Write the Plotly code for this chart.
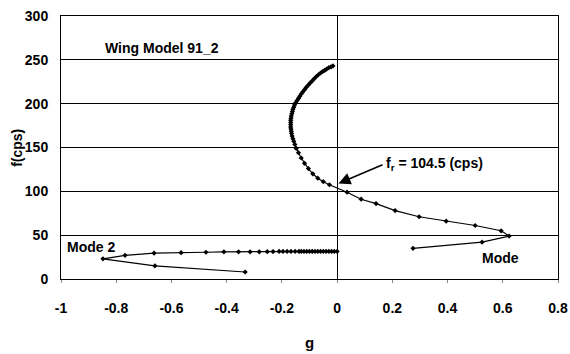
import plotly.graph_objects as go

# Mode 1 (upper branch, drawn in order of increasing velocity)
mode1_g = [-0.015, -0.022, -0.03, -0.038, -0.045, -0.053, -0.06, -0.068, -0.075, -0.083,
           -0.09, -0.098, -0.105, -0.112, -0.118, -0.124, -0.13, -0.135, -0.14, -0.145,
           -0.15, -0.154, -0.157, -0.160, -0.162, -0.164, -0.166, -0.167, -0.168, -0.168,
           -0.168, -0.168, -0.167, -0.166, -0.165, -0.163, -0.160, -0.157, -0.153, -0.148,
           -0.140, -0.130, -0.118, -0.104, -0.088, -0.070, -0.050, -0.028, 0.036, 0.087,
           0.141, 0.21, 0.297, 0.395, 0.50, 0.594, 0.623, 0.525, 0.275]
mode1_f = [243, 242, 241, 239.5, 238, 236.5, 235, 233, 231, 228.5,
           226, 223.5, 221, 218.5, 216, 213.5, 211, 208.5, 206, 203.5,
           201, 198.5, 196, 193.5, 191, 188.5, 186, 183.5, 181, 178.5,
           176, 173.5, 171, 168.5, 166, 163, 160, 157, 153.5, 149,
           144, 138, 132, 126, 120, 115, 111, 107.5, 99, 91,
           86, 78, 71, 66, 61, 55, 49, 42, 35]

# Mode 2 (lower branch)
mode2_g = [0.0, -0.01, -0.02, -0.03, -0.04, -0.05, -0.06, -0.07, -0.08, -0.09,
           -0.10, -0.11, -0.12, -0.13, -0.138, -0.152, -0.167,
           -0.181, -0.196, -0.21, -0.232, -0.253, -0.282, -0.315, -0.357, -0.41, -0.475,
           -0.565, -0.663, -0.768, -0.848, -0.66, -0.333]
mode2_f = [31.5, 31.5, 31.5, 31.5, 31.5, 31.5, 31.5, 31.5, 31.5, 31.5,
           31.5, 31.5, 31.5, 31.5, 31.5, 31.5, 31.5,
           31.5, 31.5, 31.5, 31.3, 31.2, 31, 31, 31, 31, 30.5,
           30, 29.5, 27, 23, 15, 8]

y_ticks = [0, 50, 100, 150, 200, 250, 300]
x_ticks = [-1, -0.8, -0.6, -0.4, -0.2, 0, 0.2, 0.4, 0.6, 0.8]
x_tick_text = ["-1", "-0.8", "-0.6", "-0.4", "-0.2", "0", "0.2", "0.4", "0.6", "0.8"]

FONT = "Liberation Sans Narrow, Arial Narrow, Liberation Sans, Arial"

fig = go.Figure()
for gx, fy in [(mode1_g, mode1_f), (mode2_g, mode2_f)]:
    fig.add_trace(go.Scatter(
        x=gx, y=fy, mode="lines+markers",
        line=dict(color="black", width=1.2),
        marker=dict(color="black", size=4, symbol="diamond"),
        showlegend=False, hoverinfo="skip"))

fig.update_layout(
    width=570, height=354,
    margin=dict(l=61, r=12, t=16, b=75),
    paper_bgcolor="white", plot_bgcolor="white",
    font=dict(family=FONT, size=14, color="black"),
    xaxis=dict(range=[-1, 0.8], tickvals=x_ticks, ticktext=x_tick_text,
               automargin=False,
               showgrid=False, zeroline=True, zerolinecolor="black", zerolinewidth=1,
               showline=True, linecolor="black", linewidth=1, mirror=True,
               ticks="outside", ticklen=3, tickcolor="#888",
               ticklabelstandoff=13,
               tickfont=dict(family=FONT, size=14, color="black", weight="bold")),
    yaxis=dict(range=[0, 300], tickvals=y_ticks,
               automargin=False,
               showgrid=True, gridcolor="black", gridwidth=1,
               zeroline=False,
               showline=True, linecolor="black", linewidth=1, mirror=True,
               ticks="", ticklabelstandoff=9,
               tickfont=dict(family=FONT, size=14, color="black", weight="bold")),
)

fig.add_annotation(text="f(cps)", xref="paper", yref="paper", x=-0.11, y=0.5,
                   textangle=-90, showarrow=False,
                   font=dict(family=FONT, size=14, color="black", weight="bold"))
fig.add_annotation(text="g", xref="paper", yref="paper", x=0.499, y=-0.243,
                   yanchor="middle", showarrow=False,
                   font=dict(family=FONT, size=15, color="black", weight="bold"))
fig.add_annotation(text="Wing Model 91_2", x=-0.635, y=252, yanchor="bottom",
                   showarrow=False,
                   font=dict(family=FONT, size=14, color="black", weight="bold"))
fig.add_annotation(text="f<sub>r</sub> = 104.5 (cps)", x=0.17, y=131, xanchor="left",
                   showarrow=False,
                   font=dict(family=FONT, size=14, color="black", weight="bold"))
fig.add_annotation(x=0.005, y=109, ax=0.17, ay=131, xref="x", yref="y",
                   axref="x", ayref="y", text="", showarrow=True,
                   arrowhead=2, arrowsize=1.6, arrowwidth=1.5, arrowcolor="black")
fig.add_annotation(text="Mode 2", x=-0.89, y=36, showarrow=False,
                   font=dict(family=FONT, size=14, color="black", weight="bold"))
fig.add_annotation(text="Mode", x=0.59, y=24, showarrow=False,
                   font=dict(family=FONT, size=14, color="black", weight="bold"))

fig.write_html("out.html", config={"displayModeBar": False},
               post_script="document.body.style.margin='0';")
